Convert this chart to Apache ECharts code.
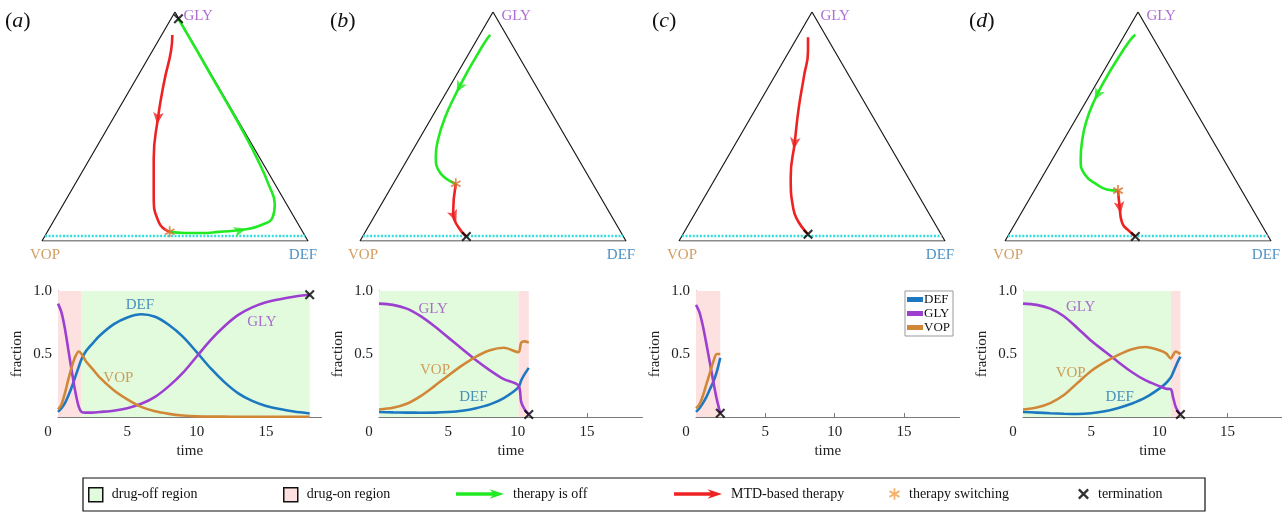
<!DOCTYPE html>
<html><head><meta charset="utf-8">
<script src="https://cdn.jsdelivr.net/npm/echarts@6/dist/echarts.min.js"></script>
<style>html,body{margin:0;padding:0;background:#fff}#chart{width:1282px;height:512px}</style>
</head><body><div id="chart"></div>
<script>
// ================= DATA =================
// Panel (a)
const timeA = [0,0.25,0.5,0.75,1,1.25,1.5,1.7,2,2.5,3,4,5,6,7,8,9,10,11,12,13,14,15,16,17,18.15];
const glyA  = [.90,.83,.70,.53,.36,.20,.08,.04,.035,.035,.04,.05,.07,.105,.16,.245,.35,.48,.61,.72,.81,.87,.91,.935,.955,.97];
const defA  = [.04,.07,.11,.17,.24,.32,.40,.46,.52,.585,.645,.735,.79,.815,.795,.73,.638,.515,.387,.277,.188,.128,.088,.063,.043,.028];
const vopA  = [.06,.10,.19,.30,.40,.48,.52,.50,.445,.38,.315,.215,.14,.08,.045,.025,.012,.005,.003,.003,.002,.002,.002,.002,.002,.002];
const phasesA = [['on',0,1.7],['off',1.7,18.15]];
const arrowTimesA = [0.78, 4.1];
// Panel (b)
const timeB = [0,1,2,3,4,5,6,7,8,9,10.05,10.25,10.5,10.8];
const glyB  = [.90,.89,.86,.80,.72,.63,.54,.45,.37,.30,.25,.12,.06,.02];
const defB  = [.04,.037,.035,.034,.035,.04,.05,.07,.10,.15,.235,.29,.34,.39];
const vopB  = [.06,.073,.105,.166,.245,.33,.41,.48,.53,.55,.515,.59,.60,.59];
const phasesB = [['off',0,10.05],['on',10.05,10.8]];
const arrowTimesB = [4.8, 10.4];
// Panel (c)
const timeC = [0,0.25,0.5,0.75,1,1.25,1.5,1.75];
const glyC  = [.89,.83,.72,.58,.43,.28,.14,.03];
const defC  = [.04,.07,.11,.16,.22,.28,.36,.47];
const vopC  = [.07,.10,.17,.26,.35,.44,.50,.50];
const phasesC = [['on',0,1.75]];
const arrowTimesC = [1.05];
// Panel (d)
const timeD = [0,1,2,3,4,5,6,7,8,9,10,10.5,10.85,11.0,11.2,11.4,11.55];
const glyD  = [.90,.89,.86,.80,.705,.605,.52,.435,.355,.29,.245,.225,.22,.16,.08,.04,.02];
const defD  = [.04,.035,.03,.026,.024,.03,.045,.072,.107,.155,.225,.27,.315,.35,.40,.45,.48];
const vopD  = [.06,.075,.11,.174,.271,.365,.435,.493,.538,.555,.53,.505,.465,.49,.52,.51,.50];
const phasesD = [['off',0,10.85],['on',10.85,11.55]];
const arrowTimesD = [4.9, 11.1];

const panelNames = ['a','b','c','d'];
const glyThreshold = 0.022;
const xTickLabels = [0,5,10,15];
const yTickLabels = [0.5,1.0];
const vertexNames = ['VOP','DEF','GLY'];
// curve label anchors [name, time, fraction]
const curveLabelsA = [['DEF',5.9,.89],['GLY',14.7,.756],['VOP',4.35,.31]];
const curveLabelsB = [['GLY',3.9,.86],['VOP',4.04,.37],['DEF',6.8,.16]];
const curveLabelsC = [];
const curveLabelsD = [['GLY',4.23,.875],['VOP',3.5,.35],['DEF',7.1,.16]];

// ================= LAYOUT / STYLE =================
const SERIF = '"Liberation Serif","DejaVu Serif",serif';
const COL = {
  DEF:'#1c78c0', GLY:'#9d3fd0', VOP:'#d08838',
  DEFt:'#1f74b5', GLYt:'#9a48c8', VOPt:'#c8843a',
  on:'#ee2222', off:'#22ea22', thr:'#33dddd',
  offRegion:'#e2fbdc', onRegion:'#fde0e0',
  switchMark:'#d8702c', switchLegend:'#f0a048', axis:'#7a7a7a'
};
const triLeft = [42,360,679,1005], triTop = 12, triW = 266, triH = 229;
const lineLeft = [58,379,696,1023], lineTop = 291, lineH = 126, lineW = 263.5;
const titleLeft = [5,330,652,969];
const X_PATH = 'path://M-5,-3.5L-3.5,-5L5,3.5L3.5,5Z M3.5,-5L5,-3.5L-3.5,5L-5,3.5Z';
const STAR_PATH = 'path://M-0.8,-5L0.8,-5L0.8,5L-0.8,5Z M3.93,-3.19L4.73,-1.81L-3.93,3.19L-4.73,1.81Z M4.73,1.81L3.93,3.19L-4.73,-1.81L-3.93,-3.19Z';
const ARROW_PATH = 'path://M0,3.2L38,3.2L35,0L50,5L35,10L38,6.8L0,6.8Z';

const panels = [
  {time:timeA, gly:glyA, def:defA, vop:vopA, phases:phasesA, arrows:arrowTimesA, labels:curveLabelsA},
  {time:timeB, gly:glyB, def:defB, vop:vopB, phases:phasesB, arrows:arrowTimesB, labels:curveLabelsB},
  {time:timeC, gly:glyC, def:defC, vop:vopC, phases:phasesC, arrows:arrowTimesC, labels:curveLabelsC},
  {time:timeD, gly:glyD, def:defD, vop:vopD, phases:phasesD, arrows:arrowTimesD, labels:curveLabelsD}
];

function tern(d, g) { return [d + g / 2, g]; }
const modeName = m => m === 'on' ? 'MTD-based therapy' : 'therapy is off';
const modeColor = m => m === 'on' ? COL.on : COL.off;

const grid = [], xAxis = [], yAxis = [], series = [], title = [];

// ---- triangles ----
panels.forEach((p, i) => {
  grid.push({left: triLeft[i], top: triTop, width: triW, height: triH});
  xAxis.push({type:'value', gridIndex:i, min:0, max:1, show:false});
  yAxis.push({type:'value', gridIndex:i, min:0, max:1, show:false});
  const vtx = [tern(0,0), tern(1,0), tern(0,1)];
  series.push({type:'line', xAxisIndex:i, yAxisIndex:i, data:[vtx[0],vtx[1],vtx[2],vtx[0]], symbol:'none',
    lineStyle:{color:'#1a1a1a', width:1.2}, silent:true, z:2});
  series.push({type:'line', xAxisIndex:i, yAxisIndex:i, data:[tern(0,glyThreshold), tern(1-glyThreshold,glyThreshold)], symbol:'none',
    lineStyle:{color:COL.thr, width:2.6, type:[2,1.6]}, silent:true, z:3});
  const lab = [
    {value:vtx[0], label:{formatter:vertexNames[0], position:'bottom', distance:6, offset:[3,0], color:COL.VOPt}},
    {value:vtx[1], label:{formatter:vertexNames[1], position:'bottom', distance:6, offset:[-5,0], color:COL.DEFt}},
    {value:vtx[2], label:{formatter:vertexNames[2], position:'right', distance:8, offset:[0,4], color:COL.GLYt}}
  ];
  series.push({type:'scatter', xAxisIndex:i, yAxisIndex:i, data:lab, symbolSize:1, itemStyle:{color:'rgba(0,0,0,0)'},
    label:{show:true, fontFamily:SERIF, fontSize:15}, silent:true, z:4});
  p.phases.forEach(([mode, t0, t1]) => {
    const pts = [];
    p.time.forEach((t, k) => { if (t >= t0 - 1e-9 && t <= t1 + 1e-9) pts.push(tern(p.def[k], p.gly[k])); });
    series.push({type:'line', name:modeName(mode), xAxisIndex:i, yAxisIndex:i, data:pts, smooth:0.5, symbol:'none',
      lineStyle:{color:modeColor(mode), width:2.6}, itemStyle:{color:modeColor(mode)}, silent:true, z:6});
  });
  p.arrows.forEach(ta => {
    let k = 0;
    while (k < p.time.length - 2 && p.time[k+1] < ta) k++;
    const f = (ta - p.time[k]) / (p.time[k+1] - p.time[k]);
    const d = p.def[k] + f * (p.def[k+1] - p.def[k]);
    const g = p.gly[k] + f * (p.gly[k+1] - p.gly[k]);
    const a = tern(p.def[k], p.gly[k]), b = tern(p.def[k+1], p.gly[k+1]);
    const ang = Math.atan2((b[1]-a[1]) * triH, (b[0]-a[0]) * triW) * 180 / Math.PI - 90;
    const ph = p.phases.find(q => ta >= q[1] && ta <= q[2]);
    series.push({type:'scatter', name:modeName(ph[0]), xAxisIndex:i, yAxisIndex:i, data:[{value:tern(d,g), symbolRotate:ang}],
      symbol:'arrow', symbolSize:[8,12], itemStyle:{color:modeColor(ph[0])}, silent:true, z:7});
  });
  p.phases.slice(1).forEach(([mode, t0]) => {
    const k = p.time.findIndex(t => Math.abs(t - t0) < 1e-9);
    series.push({type:'scatter', name:'therapy switching', xAxisIndex:i, yAxisIndex:i, data:[tern(p.def[k], p.gly[k])],
      symbol:STAR_PATH, symbolSize:11, symbolKeepAspect:true, itemStyle:{color:COL.switchMark}, silent:true, z:8});
  });
  const n = p.time.length - 1;
  series.push({type:'scatter', name:'termination', xAxisIndex:i, yAxisIndex:i, data:[tern(p.def[n], p.gly[n])],
    symbol:X_PATH, symbolSize:10, itemStyle:{color:'#000'}, silent:true, z:9});
  title.push({text:'{p|(}{i|' + panelNames[i] + '})', left:titleLeft[i], top:10, padding:0,
    textStyle:{fontFamily:SERIF, fontSize:22, fontWeight:'normal', color:'#111',
      rich:{p:{fontFamily:SERIF, fontSize:22, fontWeight:'normal', color:'#111'},
            i:{fontFamily:SERIF, fontSize:22, fontWeight:'normal', fontStyle:'italic', color:'#111'}}}});
});

// ---- time courses ----
const axisFont = {fontFamily:SERIF, fontSize:15, color:'#222'};
panels.forEach((p, i) => {
  const gi = 4 + i;
  grid.push({left: lineLeft[i], top: lineTop, width: lineW, height: lineH});
  xAxis.push({type:'value', gridIndex:gi, min:0, max:19, interval:5, name:'time', nameLocation:'middle', nameGap:27,
    nameTextStyle:axisFont, axisLine:{show:true, onZero:false, lineStyle:{color:COL.axis, width:1}},
    axisTick:{show:true, inside:true, length:4, customValues:[5,10,15], lineStyle:{color:COL.axis}},
    axisLabel:Object.assign({customValues:xTickLabels, margin:8,
      formatter: v => v === 0 ? '{z|0}' : String(v),
      rich:{z:{fontFamily:SERIF, fontSize:15, color:'#222', padding:[0,20,0,0]}}}, axisFont),
    splitLine:{show:false}});
  yAxis.push({type:'value', gridIndex:gi, min:0, max:1, interval:0.5, name:'fraction', nameLocation:'middle', nameGap:33, nameRotate:90,
    nameTextStyle:axisFont, axisLine:{show:true, lineStyle:{color:COL.axis, width:1}}, axisTick:{show:false},
    axisLabel:Object.assign({customValues:yTickLabels, margin:6, formatter: v => v.toFixed(1)}, axisFont),
    splitLine:{show:false}});
  p.phases.forEach(([mode, t0, t1]) => {
    const c = mode === 'on' ? COL.onRegion : COL.offRegion;
    series.push({type:'line', name: mode === 'on' ? 'drug-on region' : 'drug-off region', xAxisIndex:gi, yAxisIndex:gi, data:[],
      itemStyle:{color:c}, silent:true, z:1,
      markArea:{silent:true, itemStyle:{color:c}, data:[[{xAxis:t0, yAxis:0},{xAxis:t1, yAxis:1}]]}});
  });
  [['DEF', p.def], ['GLY', p.gly], ['VOP', p.vop]].forEach(([nm, arr]) => {
    series.push({type:'line', name:nm, xAxisIndex:gi, yAxisIndex:gi, data:p.time.map((t, k) => [t, arr[k]]),
      smooth:0.3, symbol:'none', lineStyle:{color:COL[nm], width:2.6}, itemStyle:{color:COL[nm]}, silent:true, z:4});
  });
  const n = p.time.length - 1;
  series.push({type:'scatter', name:'termination', xAxisIndex:gi, yAxisIndex:gi, data:[[p.time[n], p.gly[n]]],
    symbol:X_PATH, symbolSize:10, itemStyle:{color:'#000'}, silent:true, z:9});
  if (p.labels.length) {
    series.push({type:'scatter', name:'curve labels', xAxisIndex:gi, yAxisIndex:gi, symbolSize:1, itemStyle:{color:'rgba(0,0,0,0)'},
      data:p.labels.map(([nm, t, v]) => ({value:[t, v], label:{formatter:nm, color:COL[nm + 't']}})),
      label:{show:true, position:'inside', fontFamily:SERIF, fontSize:15}, silent:true, z:5});
  }
});

// ---- legends ----
const legendText = {fontFamily:SERIF, fontSize:14, color:'#111'};
const bottomItems = [
  {name:'drug-off region', left:88, icon:'rect', w:14, h:14, style:{color:COL.offRegion, borderColor:'#111', borderWidth:1.5}},
  {name:'drug-on region', left:283, icon:'rect', w:14, h:14, style:{color:COL.onRegion, borderColor:'#111', borderWidth:1.5}},
  {name:'therapy is off', left:456, icon:ARROW_PATH, w:48, h:10, style:{color:COL.off}},
  {name:'MTD-based therapy', left:674, icon:ARROW_PATH, w:48, h:10, style:{color:COL.on}},
  {name:'therapy switching', left:889, icon:STAR_PATH, w:11, h:12, style:{color:COL.switchLegend}},
  {name:'termination', left:1078, icon:X_PATH, w:11, h:11, style:{color:'#000'}}
];
const legend = bottomItems.map(it => ({
  data:[{name:it.name, icon:it.icon, itemStyle:it.style}], left:it.left, top:487, padding:0,
  itemWidth:it.w, itemHeight:it.h, selectedMode:false, textStyle:Object.assign({padding:[0,0,0,4]}, legendText)
}));
legend.push({data:['DEF','GLY','VOP'], orient:'vertical', left:905, top:291, icon:'rect', itemWidth:16, itemHeight:5, itemGap:1,
  padding:[2,3,2,2], borderColor:'#999', borderWidth:1, selectedMode:false,
  textStyle:{fontFamily:SERIF, fontSize:13, color:'#111', padding:[0,0,0,-4]}});

const chart = echarts.init(document.getElementById('chart'));
chart.setOption({
  animation:false, backgroundColor:'#fff',
  title, grid, xAxis, yAxis, series, legend,
  graphic:[{type:'rect', shape:{x:83, y:478, width:1122, height:33}, style:{fill:'none', stroke:'#111', lineWidth:1.2}, silent:true}]
});
</script></body></html>
